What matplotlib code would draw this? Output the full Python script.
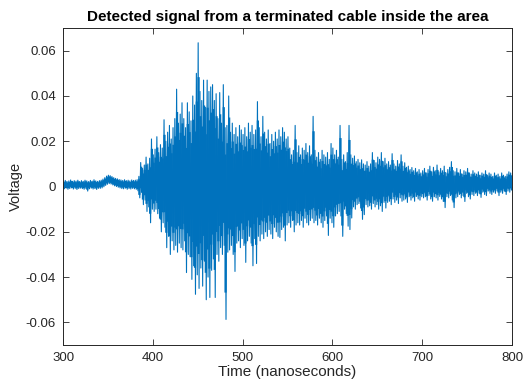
import numpy as np
import matplotlib
matplotlib.use('Agg')
from matplotlib import pyplot as plt

# envelope of the trace, one value every 2 ns (millivolts)
t_start = 300
bin_ns = 2

upper_mv = [
    2.4, 2.7, 2.2, 2.5, 2.9, 2.3, 2.6, 2.4, 2.8, 2.2,
    2.6, 2.3, 2.8, 2.5, 2.2, 2.7, 2.4, 3.0, 2.5, 2.3,
    2.6, 2.8, 3.3, 3.9, 4.6, 5.0, 4.8, 4.4, 3.9, 3.6,
    3.4, 3.1, 2.9, 2.7, 3.0, 2.6, 2.8, 2.5, 2.9, 2.7,
    2.8, 3.0, 4.5, 10.6, 8.0, 9.5, 13.0, 10.0, 12.5, 21.0,
    14.0, 16.5, 22.0, 15.0, 18.5, 17.0, 29.5, 20.0, 24.0, 27.0,
    21.0, 26.0, 30.0, 43.0, 28.0, 32.0, 37.0, 30.0, 26.0, 37.0,
    33.0, 29.0, 40.0, 36.0, 50.0, 63.5, 42.0, 38.0, 47.0, 35.0,
    47.0, 42.0, 44.0, 45.0, 38.0, 41.0, 30.0, 41.5, 28.0, 45.0,
    26.0, 27.0, 40.0, 24.0, 28.0, 23.0, 26.0, 22.0, 27.0, 25.0,
    23.0, 26.0, 22.0, 28.0, 24.0, 27.0, 23.0, 25.0, 37.5, 26.0,
    22.0, 31.0, 24.0, 21.0, 25.0, 19.0, 23.0, 20.0, 24.0, 21.0,
    25.0, 22.0, 26.0, 24.0, 21.0, 22.0, 17.0, 14.0, 16.0, 27.0,
    15.0, 18.0, 14.0, 17.0, 16.0, 19.0, 15.0, 18.0, 14.0, 31.0,
    16.0, 13.0, 15.0, 12.0, 16.0, 14.0, 13.0, 15.0, 12.0, 19.0,
    17.0, 14.0, 16.0, 13.0, 27.0, 12.0, 14.0, 11.0, 15.0, 27.0,
    14.0, 12.5, 13.5, 11.0, 12.0, 10.5, 11.8, 10.0, 9.5, 11.0,
    9.0, 10.0, 15.0, 11.5, 10.5, 13.0, 12.0, 15.0, 11.0, 12.5,
    10.0, 11.0, 9.5, 14.5, 10.0, 9.0, 11.5, 10.0, 14.0, 9.0,
    10.5, 8.5, 9.0, 7.5, 8.4, 7.0, 8.0, 6.5, 7.5, 6.0,
    7.0, 8.0, 6.0, 7.5, 9.0, 6.5, 8.5, 7.0, 9.5, 6.5,
    8.0, 7.0, 9.0, 6.0, 7.5, 8.5, 11.0, 7.0, 6.5, 8.0,
    6.0, 7.5, 5.5, 7.0, 6.5, 8.0, 6.0, 5.5, 7.0, 6.0,
    5.5, 6.5, 5.0, 6.0, 5.5, 7.0, 5.0, 6.0, 5.5, 4.5,
    6.0, 5.0, 5.5, 4.5, 6.0, 5.0, 4.5, 5.5, 6.5, 6.0,
]

lower_mv = [
    -1.0, -0.7, -1.2, -0.9, -0.6, -1.1, -0.8, -1.3, -0.9, -0.7,
    -0.9, -1.2, -0.8, -2.0, -1.0, -0.7, -1.1, -0.9, -1.3, -0.8,
    -0.8, -0.6, -0.1, 0.5, 1.0, 1.3, 1.1, 0.7, 0.3, 0.0,
    -0.3, -0.6, -0.9, -1.0, -0.7, -1.2, -0.9, -1.1, -0.8, -1.0,
    -1.2, -1.9, -5.0, -2.6, -8.0, -6.0, -11.0, -9.0, -16.0, -10.0,
    -11.0, -10.0, -12.0, -14.0, -20.0, -16.0, -18.0, -27.0, -22.0, -30.0,
    -24.0, -28.0, -26.0, -29.0, -25.0, -27.0, -28.0, -24.0, -38.0, -30.0,
    -31.0, -41.0, -35.0, -47.6, -39.0, -45.0, -36.0, -44.0, -33.0, -50.0,
    -40.0, -49.0, -37.0, -32.0, -49.0, -30.0, -33.0, -27.0, -30.0, -26.0,
    -58.7, -29.0, -28.0, -26.0, -30.0, -37.5, -25.0, -24.0, -27.0, -23.0,
    -26.0, -33.5, -24.0, -22.0, -25.0, -35.0, -23.0, -34.0, -22.0, -24.0,
    -21.0, -23.0, -20.0, -22.0, -19.0, -21.0, -23.0, -18.0, -20.0, -22.0,
    -22.5, -19.0, -18.0, -24.0, -17.0, -16.0, -18.0, -15.0, -20.0, -17.0,
    -16.0, -17.0, -15.0, -18.0, -14.0, -16.0, -17.0, -15.0, -14.0, -16.0,
    -15.0, -17.0, -14.0, -16.0, -18.0, -15.0, -13.0, -21.6, -14.0, -16.0,
    -18.0, -13.0, -12.0, -11.0, -13.0, -22.0, -10.0, -12.0, -17.5, -19.0,
    -13.9, -9.0, -10.0, -8.0, -7.5, -9.5, -14.5, -12.4, -8.0, -9.0,
    -8.5, -10.0, -7.5, -9.0, -8.0, -10.0, -8.5, -11.0, -7.0, -9.5,
    -7.0, -6.5, -8.0, -5.5, -7.0, -6.0, -7.5, -5.0, -6.5, -6.0,
    -5.5, -7.0, -4.5, -6.0, -5.0, -6.5, -4.4, -5.5, -6.0, -4.5,
    -5.0, -4.5, -6.0, -4.0, -5.5, -6.5, -4.5, -5.0, -6.0, -4.4,
    -5.5, -6.6, -9.3, -4.5, -5.0, -4.0, -6.0, -9.3, -5.0, -4.5,
    -3.5, -5.0, -4.0, -6.6, -3.0, -4.5, -5.5, -3.5, -4.0, -3.0,
    -4.0, -3.0, -4.8, -2.5, -3.5, -4.0, -2.0, -3.0, -3.5, -2.5,
    -3.0, -2.0, -4.0, -2.5, -3.0, -2.0, -3.5, -2.0, -2.5, -1.5,
]

x_ticks = [300, 400, 500, 600, 700, 800]
y_ticks = [-0.06, -0.04, -0.02, 0, 0.02, 0.04, 0.06]
y_tick_labels = ['-0.06', '-0.04', '-0.02', '0', '0.02', '0.04', '0.06']

n = len(upper_mv)
t_bin = t_start + bin_ns * np.arange(n)
up = np.array(upper_mv) / 1000.0
lo = np.array(lower_mv) / 1000.0

# interleave max / min of each bin so the line swings like the real trace
t = np.empty(2 * n)
v = np.empty(2 * n)
t[0::2] = t_bin + 0.5
t[1::2] = t_bin + 1.5
v[0::2] = up
v[1::2] = lo

plt.rcParams['font.family'] = ['Liberation Sans', 'DejaVu Sans']
fig = plt.figure(figsize=(5.23, 3.87), dpi=100)
ax = fig.add_axes([0.1205, 0.1085, 0.8585, 0.819])

blue = '#0072BD'
# solid core of each bin; the thin line carries the spike tips
mid = (up + lo) / 2
half = (up - lo) / 2 * 0.72
ax.vlines(t_bin + 1, mid - half, mid + half, color=blue, linewidth=1.6, snap=False)
ax.plot(t, v, color=blue, linewidth=0.8)

ax.set_xlim(300, 800)
ax.set_ylim(-0.07, 0.07)
ax.set_xticks(x_ticks)
ax.set_yticks(y_ticks)
ax.set_yticklabels(y_tick_labels)

dark = '#262626'
ax.tick_params(direction='in', length=4, width=0.6, colors=dark,
               labelsize=9.5, top=True, right=True, pad=5)
for s in ax.spines.values():
    s.set_color(dark)
    s.set_linewidth(0.7)

ax.set_xlabel('Time (nanoseconds)', fontsize=11, color=dark, labelpad=1)
ax.set_ylabel('Voltage', fontsize=10.5, color=dark, labelpad=2)
ax.set_title('Detected signal from a terminated cable inside the area',
             fontsize=11, fontweight='bold', color='black', pad=5)

fig.savefig('out.png', dpi=100)
